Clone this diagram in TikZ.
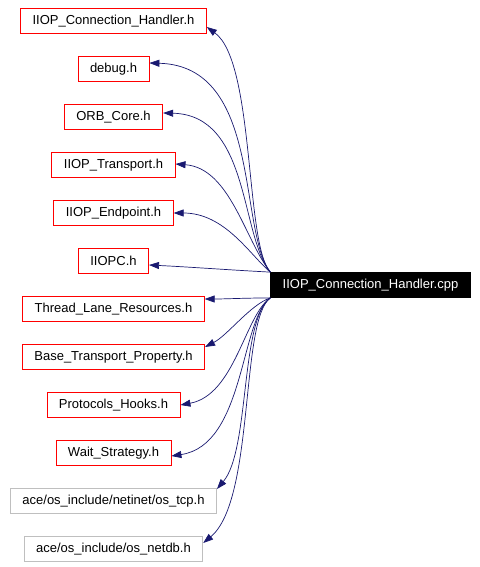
\documentclass[tikz,border=0pt]{standalone}
\usepackage{fontspec}
\setmainfont{Liberation Sans}
\usetikzlibrary{arrows.meta}
\definecolor{edgeblue}{HTML}{191970}
\definecolor{boxgray}{HTML}{BFBFBF}

\begin{document}
\begin{tikzpicture}[x=1pt,y=-1pt]
    \tikzstyle{hdr}=[draw=red,fill=white,line width=0.8pt,minimum height=25pt,inner xsep=12pt,inner ysep=0pt,font=\fontsize{13}{15}\selectfont]
    \tikzstyle{sys}=[hdr,draw=boxgray]
    \tikzstyle{src}=[hdr,draw=black,fill=black,text=white]
    \tikzstyle{dep}=[draw=edgeblue,line width=0.7pt,-{Triangle[length=10pt,width=7pt]}]
    \useasboundingbox (0,0) rectangle (479,567);
    \foreach \i/\n/\s/\t in {0/connh/hdr/IIOP\_Connection\_Handler.h,1/debug/hdr/debug.h,
      2/orbcore/hdr/ORB\_Core.h,3/transport/hdr/IIOP\_Transport.h,4/endpoint/hdr/IIOP\_Endpoint.h,
      5/iiopc/hdr/IIOPC.h,6/tlr/hdr/Thread\_Lane\_Resources.h,7/btp/hdr/Base\_Transport\_Property.h,
      8/hooks/hdr/Protocols\_Hooks.h,9/wait/hdr/Wait\_Strategy.h,
      10/tcp/sys/{ace/os\_include/netinet/os\_tcp.h},11/netdb/sys/{ace/os\_include/os\_netdb.h}}
      {\node[\s] at (113.5,21+48*\i) (\n) {\t};}
    \node[src] at (370.5,285) (cpp) {IIOP\_Connection\_Handler.cpp};
    \foreach \n/\a/\e/\ax/\ay/\bx/\by in {connh/north west/-6/245/245/255/62,
      debug/north west/6/238/230/262/66,orbcore/north west/4/240/235/250/115,
      transport/north west/1/245/240/230/168,endpoint/north west/0/250/255/225/213,
      iiopc/north west/-4/230/270/190/267,tlr/south west/10/245/298/225/299,
      btp/south west/10/250/305/228/335,hooks/south west/0/245/315/235/395,
      wait/south west/-3/240/320/245/445,tcp/south west/12/240/320/250/450,
      netdb/south west/6/240/320/255/500}{
      \draw[dep] (cpp.\a) .. controls (\ax,\ay) and (\bx,\by) .. ([yshift=\e pt]\n.east);
    }
  \end{tikzpicture}
\end{document}
